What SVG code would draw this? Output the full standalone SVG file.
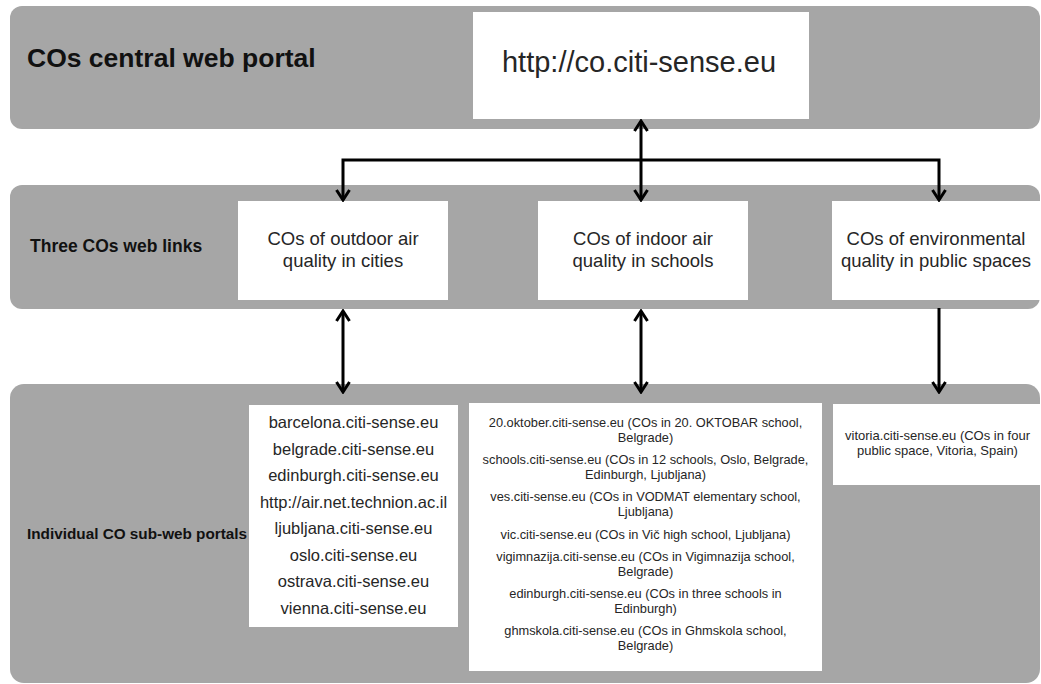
<svg xmlns="http://www.w3.org/2000/svg" width="1041" height="684" viewBox="0 0 1041 684">
  <defs>
    <style>
      .band { fill: #a6a6a6; }
      .box { fill: #ffffff; }
      .lbl { font-family: "Liberation Sans", Arial, sans-serif; font-weight: bold; fill: #111111; }
      .txt { font-family: "Liberation Sans", Arial, sans-serif; fill: #262626; text-anchor: middle; }
      .conn { fill: none; stroke: #000000; stroke-width: 3; }
    </style>
    <marker id="head" viewBox="-12 -8 14 16" refX="0" refY="0" markerWidth="14" markerHeight="16" markerUnits="userSpaceOnUse" orient="auto-start-reverse">
      <path d="M -10 -6.5 L 0 0 L -10 6.5" fill="none" stroke="#000000" stroke-width="3" stroke-linejoin="miter"/>
    </marker>
  </defs>

  <!-- layer bands -->
  <g id="band-central">
    <rect class="band" x="10" y="6" width="1030" height="123" rx="12"/>
    <text class="lbl" x="27" y="67" font-size="26.5">COs central web portal</text>
  </g>
  <g id="band-links">
    <rect class="band" x="10" y="185" width="1030" height="124" rx="12"/>
    <text class="lbl" x="30" y="252" font-size="17.5">Three COs web links</text>
  </g>
  <g id="band-sub">
    <rect class="band" x="10" y="384" width="1030" height="299" rx="14"/>
    <text class="lbl" x="27" y="539" font-size="15.3">Individual CO sub-web portals</text>
  </g>

  <!-- central portal -->
  <g id="portal">
    <rect class="box" x="473" y="12" width="336" height="107"/>
    <text class="txt" x="639" y="72" font-size="29">http://co.citi-sense.eu</text>
  </g>

  <!-- web links -->
  <g id="link-outdoor">
    <rect class="box" x="238" y="201" width="210" height="99"/>
    <text class="txt" x="343" y="245" font-size="18.5">COs of outdoor air</text>
    <text class="txt" x="343" y="266.5" font-size="18.5">quality in cities</text>
  </g>
  <g id="link-indoor">
    <rect class="box" x="538" y="201" width="210" height="99"/>
    <text class="txt" x="643" y="245" font-size="18.5">COs of indoor air</text>
    <text class="txt" x="643" y="266.5" font-size="18.5">quality in schools</text>
  </g>
  <g id="link-public">
    <rect class="box" x="832" y="201" width="212" height="99"/>
    <text class="txt" x="936" y="245" font-size="18.5">COs of environmental</text>
    <text class="txt" x="936" y="266.5" font-size="18.5">quality in public spaces</text>
  </g>

  <!-- sub-web portals -->
  <g id="sub-cities">
    <rect class="box" x="249" y="405" width="209" height="222"/>
    <g font-size="16.5">
      <text class="txt" x="353.5" y="428">barcelona.citi-sense.eu</text>
      <text class="txt" x="353.5" y="454.5">belgrade.citi-sense.eu</text>
      <text class="txt" x="353.5" y="481">edinburgh.citi-sense.eu</text>
      <text class="txt" x="353.5" y="507.5">http://air.net.technion.ac.il</text>
      <text class="txt" x="353.5" y="534">ljubljana.citi-sense.eu</text>
      <text class="txt" x="353.5" y="560.5">oslo.citi-sense.eu</text>
      <text class="txt" x="353.5" y="587">ostrava.citi-sense.eu</text>
      <text class="txt" x="353.5" y="613.5">vienna.citi-sense.eu</text>
    </g>
  </g>
  <g id="sub-schools">
    <rect class="box" x="469" y="403" width="353" height="268"/>
    <g font-size="12.8">
      <text class="txt" x="645.5" y="427">20.oktober.citi-sense.eu (COs in 20. OKTOBAR school,</text>
      <text class="txt" x="645.5" y="442.3">Belgrade)</text>
      <text class="txt" x="645.5" y="464">schools.citi-sense.eu (COs in 12 schools, Oslo, Belgrade,</text>
      <text class="txt" x="645.5" y="479.3">Edinburgh, Ljubljana)</text>
      <text class="txt" x="645.5" y="501">ves.citi-sense.eu (COs in VODMAT  elementary school,</text>
      <text class="txt" x="645.5" y="516.3">Ljubljana)</text>
      <text class="txt" x="645.5" y="538.5">vic.citi-sense.eu (COs in Vič high school, Ljubljana)</text>
      <text class="txt" x="645.5" y="560.5">vigimnazija.citi-sense.eu (COs in Vigimnazija school,</text>
      <text class="txt" x="645.5" y="575.8">Belgrade)</text>
      <text class="txt" x="645.5" y="597.5">edinburgh.citi-sense.eu (COs in three  schools in</text>
      <text class="txt" x="645.5" y="612.8">Edinburgh)</text>
      <text class="txt" x="645.5" y="634.5">ghmskola.citi-sense.eu (COs in Ghmskola school,</text>
      <text class="txt" x="645.5" y="649.8">Belgrade)</text>
    </g>
  </g>
  <g id="sub-public">
    <rect class="box" x="833" y="404" width="212" height="81"/>
    <g font-size="13">
      <text class="txt" x="937.5" y="440">vitoria.citi-sense.eu (COs in four</text>
      <text class="txt" x="937.5" y="455.3">public space, Vitoria, Spain)</text>
    </g>
  </g>

  <!-- connectors -->
  <g id="connectors" class="conn">
    <path d="M 641 121 L 641 200" marker-start="url(#head)" marker-end="url(#head)"/>
    <path d="M 343 200 L 343 160 L 939 160 L 939 200" marker-start="url(#head)" marker-end="url(#head)"/>
    <path d="M 343 311 L 343 392" marker-start="url(#head)" marker-end="url(#head)"/>
    <path d="M 641 311 L 641 392" marker-start="url(#head)" marker-end="url(#head)"/>
    <path d="M 939 308 L 939 392" marker-end="url(#head)"/>
  </g>
</svg>
